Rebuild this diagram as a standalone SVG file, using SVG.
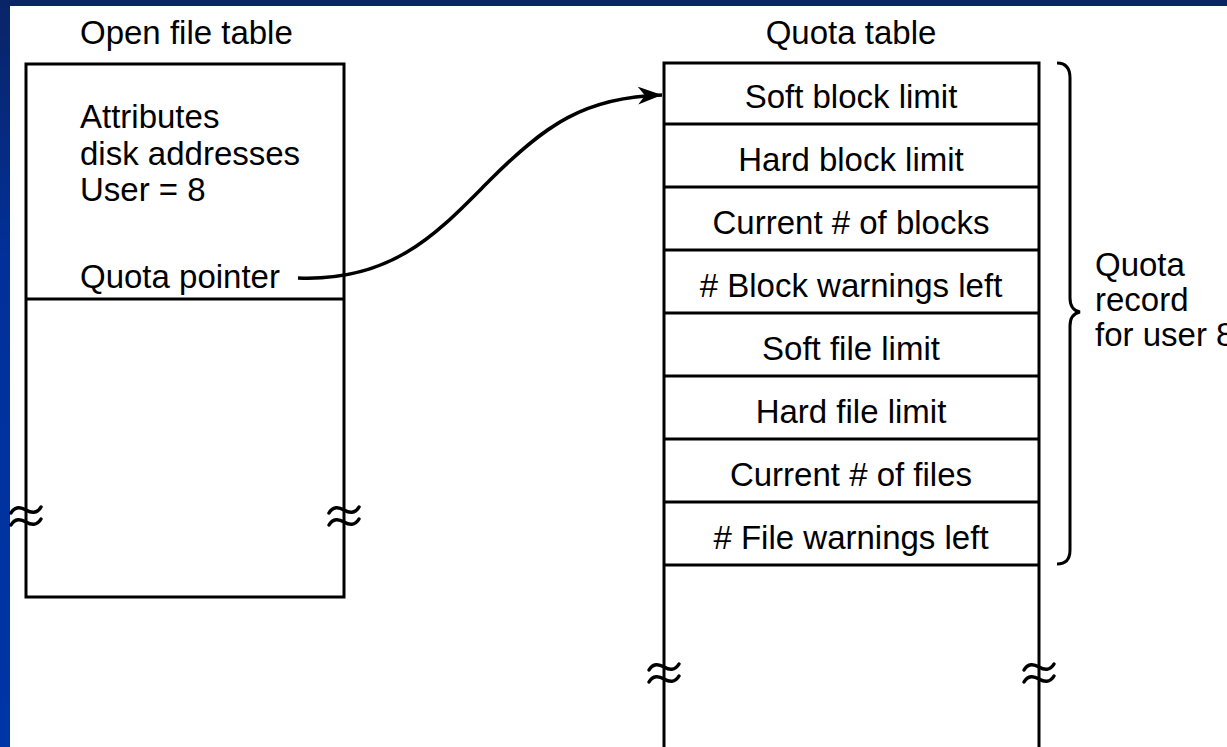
<svg xmlns="http://www.w3.org/2000/svg" width="1227" height="747" viewBox="0 0 1227 747">
  <style>
    .lbl { font-family: "Liberation Sans", Arial, sans-serif; font-size: 33px; fill: #000; }
    .mid { text-anchor: middle; }
    .box { fill: none; stroke: #000; stroke-width: 3; }
    .rule { stroke: #000; stroke-width: 3; fill: none; }
    .brk { stroke: #000; stroke-width: 3.5; fill: none; stroke-linecap: round; }
    .wire { stroke: #000; stroke-width: 3.5; fill: none; }
  </style>
  <defs>
    <linearGradient id="frame" x1="0" y1="0" x2="0" y2="1">
      <stop offset="0" stop-color="#0a2466"/>
      <stop offset="0.35" stop-color="#02309a"/>
      <stop offset="1" stop-color="#0035a6"/>
    </linearGradient>
    <!-- break mark drawn across a vertical edge -->
    <g id="brk">
      <path class="brk" d="M-15,-3 C-11,-10 -5,-9 0,-6 C5,-3 11,-2 15,-9"/>
      <path class="brk" d="M-15,9 C-11,2 -5,3 0,6 C5,9 11,10 15,3"/>
    </g>
    <marker id="head" markerUnits="userSpaceOnUse" markerWidth="26" markerHeight="18" refX="24" refY="9" orient="auto">
      <path d="M0,0 L24,9 L0,18 L7,9 z" fill="#000"/>
    </marker>
  </defs>

  <!-- slide frame and page -->
  <rect x="0" y="0" width="1227" height="747" fill="url(#frame)"/>
  <rect x="10" y="6" width="1217" height="741" fill="#fff"/>

  <!-- open file table -->
  <g id="open-file-table">
    <text class="lbl" x="80" y="44">Open file table</text>
    <rect class="box" x="26" y="64" width="318" height="533"/>
    <line class="rule" x1="26" y1="299" x2="344" y2="299"/>
    <text class="lbl" x="80" y="128">Attributes</text>
    <text class="lbl" x="80" y="165">disk addresses</text>
    <text class="lbl" x="80" y="201">User = 8</text>
    <text class="lbl" x="80" y="288">Quota pointer</text>
    <use href="#brk" x="26" y="516"/>
    <use href="#brk" x="344" y="516"/>
  </g>

  <!-- quota table -->
  <g id="quota-table">
    <text class="lbl mid" x="851" y="44">Quota table</text>
    <path class="box" d="M664,747 V63 H1039 V747"/>
    <line class="rule" x1="664" y1="124" x2="1039" y2="124"/>
    <line class="rule" x1="664" y1="187" x2="1039" y2="187"/>
    <line class="rule" x1="664" y1="250" x2="1039" y2="250"/>
    <line class="rule" x1="664" y1="313" x2="1039" y2="313"/>
    <line class="rule" x1="664" y1="376" x2="1039" y2="376"/>
    <line class="rule" x1="664" y1="439" x2="1039" y2="439"/>
    <line class="rule" x1="664" y1="502" x2="1039" y2="502"/>
    <line class="rule" x1="664" y1="565" x2="1039" y2="565"/>
    <text class="lbl mid" x="851" y="108">Soft block limit</text>
    <text class="lbl mid" x="851" y="171">Hard block limit</text>
    <text class="lbl mid" x="851" y="234">Current # of blocks</text>
    <text class="lbl mid" x="851" y="297"># Block warnings left</text>
    <text class="lbl mid" x="851" y="360">Soft file limit</text>
    <text class="lbl mid" x="851" y="423">Hard file limit</text>
    <text class="lbl mid" x="851" y="486">Current # of files</text>
    <text class="lbl mid" x="851" y="549"># File warnings left</text>
    <use href="#brk" x="664" y="673"/>
    <use href="#brk" x="1039" y="673"/>
  </g>

  <!-- brace grouping one user's quota record -->
  <g id="quota-record">
    <path class="rule" d="M1057,63 Q1070,63 1070,78 V298 Q1070,310 1080,312 Q1070,314 1070,326 V550 Q1070,564 1057,564"/>
    <text class="lbl" x="1095" y="276">Quota</text>
    <text class="lbl" x="1095" y="311">record</text>
    <text class="lbl" x="1095" y="346">for user 8</text>
  </g>

  <!-- connectors -->
  <g id="connectors">
    <path class="wire" d="M298,278 C395,282 440,230 490,180 C545,125 585,97 662,95" marker-end="url(#head)"/>
  </g>
</svg>
